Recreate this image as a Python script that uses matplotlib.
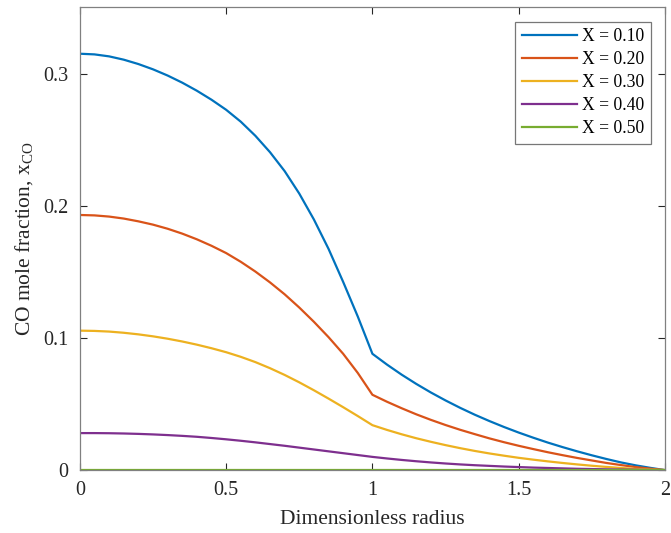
import matplotlib
matplotlib.use("Agg")
import matplotlib.pyplot as plt

plt.rcParams['font.family'] = ['Liberation Serif', 'DejaVu Serif']
plt.rcParams['mathtext.fontset'] = 'custom'
plt.rcParams['mathtext.rm'] = 'Liberation Serif'
plt.rcParams['mathtext.it'] = 'Liberation Serif:italic'

radius = [0.00, 0.05, 0.10, 0.15, 0.20, 0.25, 0.30, 0.35, 0.40, 0.45,
          0.50, 0.55, 0.60, 0.65, 0.70, 0.75, 0.80, 0.85, 0.90, 0.95,
          1.00, 1.05, 1.10, 1.15, 1.20, 1.25, 1.30, 1.35, 1.40, 1.45,
          1.50, 1.55, 1.60, 1.65, 1.70, 1.75, 1.80, 1.85, 1.90, 1.95, 2.00]

x_010 = [0.3150, 0.3145, 0.3130, 0.3105, 0.3072, 0.3032, 0.2985, 0.2931, 0.2870, 0.2802,
         0.2726, 0.2636, 0.2529, 0.2405, 0.2262, 0.2092, 0.1896, 0.1674, 0.1424, 0.1162,
         0.0880, 0.0798, 0.0722, 0.0652, 0.0587, 0.0527, 0.0471, 0.0419, 0.0371, 0.0326,
         0.0284, 0.0245, 0.0208, 0.0174, 0.0142, 0.0112, 0.0084, 0.0058, 0.0036, 0.0017, 0.0]
x_020 = [0.1930, 0.1927, 0.1918, 0.1903, 0.1882, 0.1857, 0.1826, 0.1789, 0.1746, 0.1697,
         0.1642, 0.1576, 0.1502, 0.1420, 0.1330, 0.1230, 0.1122, 0.1006, 0.0880, 0.0735,
         0.0570, 0.0517, 0.0468, 0.0422, 0.0380, 0.0341, 0.0305, 0.0272, 0.0240, 0.0211,
         0.0184, 0.0159, 0.0135, 0.0113, 0.0092, 0.0073, 0.0054, 0.0038, 0.0023, 0.0011, 0.0]
x_030 = [0.1055, 0.1053, 0.1048, 0.1039, 0.1027, 0.1012, 0.0994, 0.0973, 0.0949, 0.0922,
         0.0892, 0.0857, 0.0817, 0.0771, 0.0720, 0.0664, 0.0604, 0.0541, 0.0476, 0.0409,
         0.0340, 0.0304, 0.0271, 0.0241, 0.0214, 0.0189, 0.0166, 0.0145, 0.0126, 0.0109,
         0.0093, 0.0079, 0.0066, 0.0054, 0.0043, 0.0033, 0.0024, 0.0016, 0.0009, 0.0004, 0.0]
x_040 = [0.0280, 0.0280, 0.0279, 0.0277, 0.0274, 0.0270, 0.0265, 0.0259, 0.0252, 0.0243,
         0.0233, 0.0222, 0.0210, 0.0197, 0.0184, 0.0170, 0.0156, 0.0142, 0.0128, 0.0114,
         0.0100, 0.0088, 0.0077, 0.0067, 0.0058, 0.0050, 0.0043, 0.0037, 0.0032, 0.0027,
         0.0023, 0.0019, 0.0016, 0.0013, 0.0010, 0.0008, 0.0006, 0.0004, 0.0003, 0.0001, 0.0]
x_050 = [0.0] * len(radius)

series = [x_010, x_020, x_030, x_040, x_050]
labels = ['X = 0.10', 'X = 0.20', 'X = 0.30', 'X = 0.40', 'X = 0.50']
colors = ['#0072BD', '#D95319', '#EDB120', '#7E2F8E', '#77AC30']

xticks = [0, 0.5, 1, 1.5, 2]
xticklabels = ['0', '0.5', '1', '1.5', '2']
yticks = [0, 0.1, 0.2, 0.3]
yticklabels = ['0', '0.1', '0.2', '0.3']

fig = plt.figure(figsize=(6.71, 5.33), dpi=100)
ax = fig.add_axes([0.119, 0.118, 0.872, 0.868])

for ys, lab, c in zip(series, labels, colors):
    ax.plot(radius, ys, color=c, lw=1.6, label=lab)

ax.set_xlim(0, 2)
ax.set_ylim(0, 0.35)
ax.set_xticks(xticks)
ax.set_xticklabels(xticklabels)
ax.set_yticks(yticks)
ax.set_yticklabels(yticklabels)
ax.tick_params(direction='in', length=5, width=0.8, top=True, right=True,
               labelsize=14.5, colors='#262626', pad=8)
for s in ax.spines.values():
    s.set_color('#808080')
    s.set_linewidth(0.9)

ax.set_xlabel('Dimensionless radius', fontsize=15.5, color='#262626', labelpad=7)
ax.set_ylabel(r'CO mole fraction, x$_{\rm CO}$', fontsize=15.5, color='#262626', labelpad=6)

leg = ax.legend(loc='upper right', fontsize=12.7, frameon=True, fancybox=False,
                handlelength=3.15, handletextpad=0.3, borderpad=0.35, labelspacing=0.35,
                borderaxespad=0.8)
leg.get_frame().set_edgecolor('#555555')
leg.get_frame().set_linewidth(0.9)

fig.savefig('out.png', dpi=100)
